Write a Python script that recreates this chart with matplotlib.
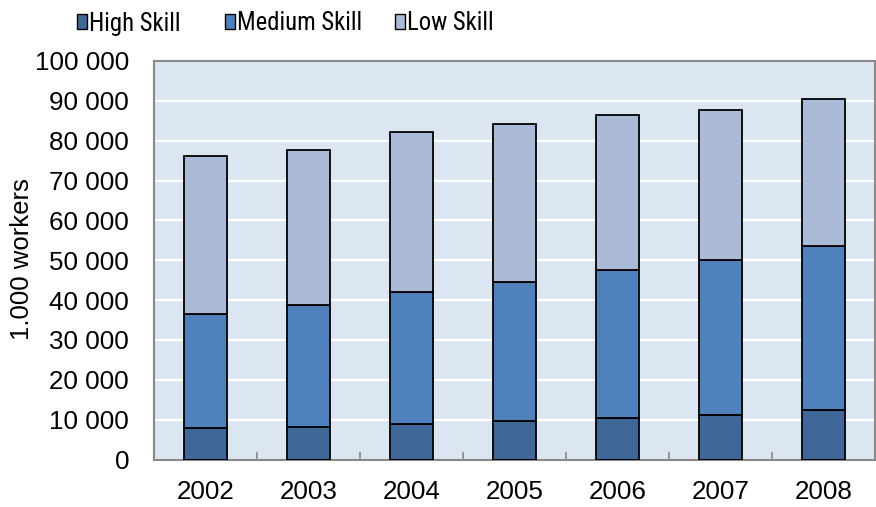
import matplotlib
matplotlib.use("Agg")
import matplotlib.pyplot as plt
from matplotlib.patches import Rectangle
from matplotlib.ticker import FuncFormatter

years = ["2002", "2003", "2004", "2005", "2006", "2007", "2008"]
high_skill = [7800, 8200, 8900, 9700, 10500, 11200, 12300]
medium_skill = [28700, 30600, 33200, 34800, 37000, 38900, 41300]
low_skill = [39700, 38900, 40000, 39800, 38900, 37600, 36900]

series_names = ["High Skill", "Medium Skill", "Low Skill"]
colors = ["#3F6899", "#4F81BD", "#AABAD7"]

plt.rcParams["font.family"] = ["Liberation Sans", "DejaVu Sans"]
narrow = ["Liberation Sans Narrow", "Roboto Condensed", "Archivo Narrow", "Liberation Sans"]

W, H = 876, 507
fig = plt.figure(figsize=(W / 100, H / 100), dpi=100)
ax = fig.add_axes([154 / W, 47.5 / H, 721 / W, 398.5 / H])
ax.set_facecolor("#DCE6F2")

x = list(range(len(years)))
bottom = [0] * len(years)
for vals, col in zip([high_skill, medium_skill, low_skill], colors):
    ax.bar(x, vals, width=0.41, bottom=bottom, color=col,
           edgecolor="black", linewidth=1.3, zorder=3)
    bottom = [b + v for b, v in zip(bottom, vals)]

ax.set_xlim(-0.5, len(years) - 0.5)
ax.set_ylim(0, 100000)
ax.set_yticks(range(0, 100001, 10000))
ax.yaxis.set_major_formatter(FuncFormatter(lambda v, p: f"{int(v):,}".replace(",", " ")))
ax.grid(axis="y", color="white", linewidth=1.6, zorder=1)
ax.set_axisbelow(True)

ax.set_xticks(x)
ax.set_xticklabels(years)
ax.set_xticks([i + 0.5 for i in x[:-1]], minor=True)
ax.tick_params(axis="x", which="major", length=0, pad=15, labelsize=18.7)
ax.tick_params(axis="x", which="minor", direction="in", length=6, width=1.2, color="#888888")
ax.tick_params(axis="y", length=0, pad=18, labelsize=18.7)

for s in ax.spines.values():
    s.set_color("#888888")
    s.set_linewidth(1.5)

fig.text(22 / W, 1 - 259 / H, "1.000 workers", rotation=90, ha="center", va="center",
         fontsize=18.5)

# legend entries: square swatch followed by label
legend_x = [77, 225, 395]
for lx, name, col in zip(legend_x, series_names, colors):
    fig.add_artist(Rectangle((lx / W, 1 - 29 / H), 10 / W, 15 / H, transform=fig.transFigure,
                             facecolor=col, edgecolor="black", linewidth=1.0))
    fig.text((lx + 12) / W, 1 - 30.5 / H, name, ha="left", va="baseline",
             fontsize=17.8, family=narrow)

fig.savefig("out.png", dpi=100)
